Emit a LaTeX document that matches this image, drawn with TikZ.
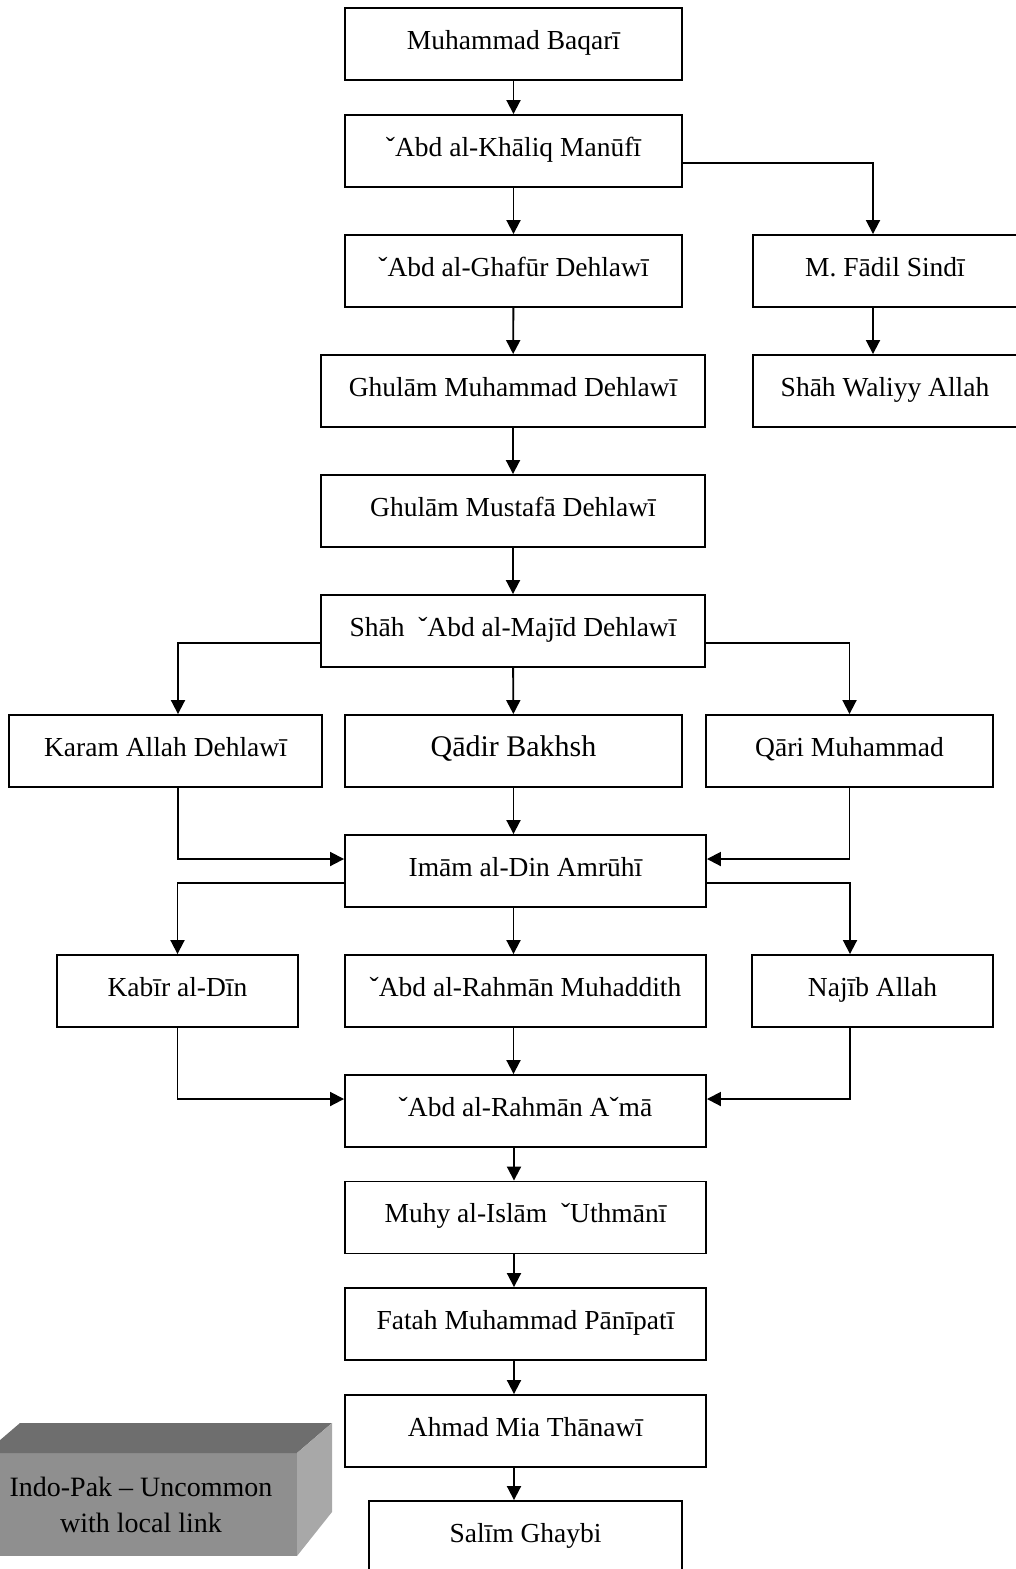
\documentclass[tikz,border=0pt]{standalone}
\usepackage{fontspec}
\setmainfont{Liberation Serif}
\usetikzlibrary{arrows.meta}

\begin{document}
\begin{tikzpicture}[x=1pt, y=-1pt, line width=1.9pt,
    >={Triangle[length=14pt,width=14pt]},
    person/.style={draw, rectangle, inner sep=0pt, minimum height=72pt,
        text height=20pt, text depth=10pt, font=\fontsize{27.5}{34}\selectfont}]
    \useasboundingbox (0,0) rectangle (1015,1569);

    % main line
    \node[person, minimum width=337pt] (baqari) at (513.5,44) {Muhammad Baqarī};
    \node[person, minimum width=337pt] (khaliq) at (513.5,151) {ˇAbd al-Khāliq Manūfī};
    \node[person, minimum width=337pt] (ghafur) at (513.5,271) {ˇAbd al-Ghafūr Dehlawī};
    \node[person, minimum width=264pt] (fadil) at (885,271) {M. Fādil Sindī};
    \node[person, minimum width=264pt] (waliyy) at (885,391) {Shāh Waliyy Allah};
    \node[person, minimum width=384pt] (ghulam) at (513,391) {Ghulām Muhammad Dehlawī};
    \node[person, minimum width=384pt] (mustafa) at (513,511) {Ghulām Mustafā Dehlawī};
    \node[person, minimum width=384pt] (majid) at (513,631) {Shāh \ ˇAbd al-Majīd Dehlawī};

    % three branches and back again
    \node[person, minimum width=313pt] (karam) at (165.5,751) {Karam Allah Dehlawī};
    \node[person, minimum width=337pt, font=\fontsize{30}{36}\selectfont] (qadir) at (513.5,751) {Qādir Bakhsh};
    \node[person, minimum width=287pt] (qari) at (849.5,751) {Qāri Muhammad};
    \node[person, minimum width=361pt] (imam) at (525.5,871) {Imām al-Din Amrūhī};
    \node[person, minimum width=241pt] (kabir) at (177.5,991) {Kabīr al-Dīn};
    \node[person, minimum width=361pt] (muhaddith) at (525.5,991) {ˇAbd al-Rahmān Muhaddith};
    \node[person, minimum width=241pt] (najib) at (872.5,991) {Najīb Allah};
    \node[person, minimum width=361pt] (ama) at (525.5,1111) {ˇAbd al-Rahmān Aˇmā};

    % down to the end
    \node[person, minimum width=361pt] (muhy) at (525.5,1217.5) {Muhy al-Islām \ ˇUthmānī};
    \node[person, minimum width=361pt] (fatah) at (525.5,1324) {Fatah Muhammad Pānīpatī};
    \node[person, minimum width=361pt] (ahmad) at (525.5,1431) {Ahmad Mia Thānawī};
    \node[person, minimum width=313pt] (salim) at (525.5,1537) {Salīm Ghaybi};

    \draw[->] (baqari) -- (khaliq);
    \draw[->] (khaliq) -- (ghafur);
    \draw[->] ([yshift=-12pt]khaliq.east) -| ([xshift=-12pt]fadil.north);
    \draw[->] ([xshift=-12pt]fadil.south) -- ([xshift=-12pt]waliyy.north);
    \draw[->] (ghafur) -- (ghulam);
    \draw[->] (ghulam) -- (mustafa);
    \draw[->] (mustafa) -- (majid);

    \draw[->] ([yshift=-12pt]majid.west) -| ([xshift=12.5pt]karam.north);
    \draw[->] (majid) -- (qadir);
    \draw[->] ([yshift=-12pt]majid.east) -| (qari.north);
    \draw[->] ([xshift=12.5pt]karam.south) |- ([yshift=12pt]imam.west);
    \draw[->] (qadir.south) -- (qadir.south |- imam.north);
    \draw[->] (qari.south) |- ([yshift=12pt]imam.east);

    \draw[->] ([yshift=-12pt]imam.west) -| (kabir.north);
    \draw[->] ([xshift=-12pt]imam.south) -- ([xshift=-12pt]muhaddith.north);
    \draw[->] ([yshift=-12pt]imam.east) -| ([xshift=-22.5pt]najib.north);
    \draw[->] (kabir.south) |- ([yshift=12pt]ama.west);
    \draw[->] ([xshift=-12pt]muhaddith.south) -- ([xshift=-12pt]ama.north);
    \draw[->] ([xshift=-22.5pt]najib.south) |- ([yshift=12pt]ama.east);

    \draw[->] ([xshift=-11.5pt]ama.south) -- ([xshift=-11.5pt]muhy.north);
    \draw[->] ([xshift=-11.5pt]muhy.south) -- ([xshift=-11.5pt]fatah.north);
    \draw[->] ([xshift=-11.5pt]fatah.south) -- ([xshift=-11.5pt]ahmad.north);
    \draw[->] ([xshift=-11.5pt]ahmad.south) -- ([xshift=-11.5pt]salim.north);

    % grey block in the corner
    \fill[black!44] (-15,1453) rectangle (297,1556);
    \fill[black!57] (-15,1453) -- (20,1423) -- (332,1423) -- (297,1453) -- cycle;
    \fill[black!34] (297,1453) -- (332,1423) -- (332,1512) -- (297,1556) -- cycle;
    \node[align=center, font=\fontsize{28}{36}\selectfont] (legend) at (141,1505)
        {Indo-Pak -- Uncommon\\with local link};
\end{tikzpicture}
\end{document}
